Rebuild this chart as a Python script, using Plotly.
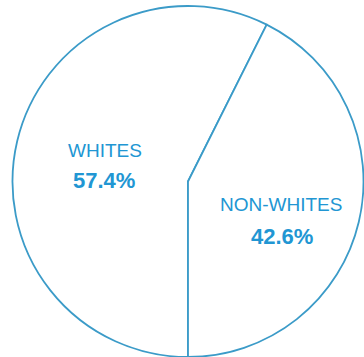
import plotly.graph_objects as go

labels = ["WHITES", "NON-WHITES"]
values = [57.4, 42.6]

W, H = 364, 357
line_color = "#3b9bc8"
text_color = "#2196d3"

fig = go.Figure(go.Pie(
    labels=labels,
    values=values,
    sort=False,
    direction="clockwise",
    rotation=180,
    textinfo="none",
    hoverinfo="label+percent",
    marker=dict(colors=["white", "white"], line=dict(color=line_color, width=1.8)),
    domain=dict(x=[12 / W, 1.0], y=[0.0, 351 / H]),
    showlegend=False,
))

# label positions (pixels, top-left origin)
name_pos = [(105, 150), (281, 205)]
val_pos = [(104, 180), (282, 236)]

annotations = []
for lab, v, (nx, ny), (vx, vy) in zip(labels, values, name_pos, val_pos):
    annotations.append(dict(
        x=nx / W, y=1 - ny / H, xref="paper", yref="paper",
        text=lab, showarrow=False, xanchor="center", yanchor="middle",
        font=dict(family="Liberation Sans, Arial, sans-serif", size=19, color=text_color),
    ))
    annotations.append(dict(
        x=vx / W, y=1 - vy / H, xref="paper", yref="paper",
        text=f"<b>{v:.1f}%</b>", showarrow=False, xanchor="center", yanchor="middle",
        font=dict(family="Liberation Sans, Arial, sans-serif", size=22, color=text_color),
    ))

fig.update_layout(
    width=W, height=H,
    margin=dict(l=0, r=0, t=0, b=0),
    paper_bgcolor="white",
    plot_bgcolor="white",
    annotations=annotations,
)

fig.write_html(
    "out.html",
    config={"displayModeBar": False},
    post_script="document.body.style.margin='0';document.body.style.overflow='hidden';",
)
